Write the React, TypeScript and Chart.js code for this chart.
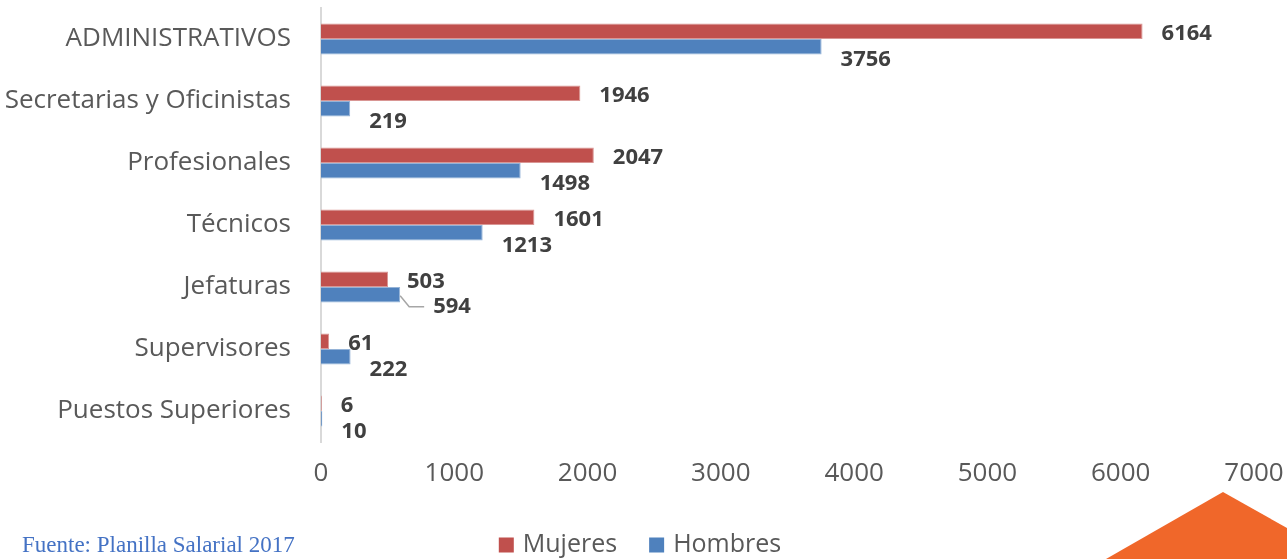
import React, { useEffect, useRef } from "react";
import { Chart, registerables } from "chart.js";

Chart.register(...registerables);

const categories = [
  "ADMINISTRATIVOS",
  "Secretarias y Oficinistas",
  "Profesionales",
  "Técnicos",
  "Jefaturas",
  "Supervisores",
  "Puestos Superiores",
];
const mujeres = [6164, 1946, 2047, 1601, 503, 61, 6];
const hombres = [3756, 219, 1498, 1213, 594, 222, 10];
const xTicks = [0, 1000, 2000, 3000, 4000, 5000, 6000, 7000];
const seriesNames = ["Mujeres", "Hombres"];
const sourceText = "Fuente: Planilla Salarial 2017";

const RED = "#C0504D";
const BLUE = "#4F81BD";
const TEXT = "#595959";

const labelPlugin = {
  id: "valueLabels",
  afterDatasetsDraw(chart: any) {
    const ctx = chart.ctx;
    ctx.save();
    ctx.font = "bold 22px 'Open Sans'";
    ctx.fillStyle = "#404040";
    ctx.textAlign = "left";
    ctx.textBaseline = "middle";
    chart.data.datasets.forEach((ds: any, di: number) => {
      const meta = chart.getDatasetMeta(di);
      meta.data.forEach((el: any, i: number) => {
        const v = ds.data[i];
        let dx = 19;
        let dy = di === 0 ? 2 : 13;
        if (di === 1 && categories[i] === "Jefaturas") {
          dx = 33;
          dy = 12;
          ctx.save();
          ctx.strokeStyle = "#A6A6A6";
          ctx.lineWidth = 1.5;
          ctx.beginPath();
          ctx.moveTo(el.x, el.y + 1);
          ctx.lineTo(el.x + 9, el.y + 12);
          ctx.lineTo(el.x + 24, el.y + 12);
          ctx.stroke();
          ctx.restore();
        }
        ctx.fillText(String(v), el.x + dx, el.y + dy);
      });
    });
    ctx.restore();
  },
};

const legendPlugin = {
  id: "customLegend",
  afterDraw(chart: any) {
    const ctx = chart.ctx;
    ctx.save();
    ctx.font = "25px 'Open Sans'";
    ctx.textBaseline = "middle";
    ctx.textAlign = "left";
    const cy = 545;
    const gap = 32;
    const box = 15;
    const items = chart.data.datasets.map((ds: any) => ({
      text: ds.label,
      color: ds.backgroundColor,
      w: box + 9 + ctx.measureText(ds.label).width,
    }));
    const total = items.reduce((s: number, it: any) => s + it.w, 0) + gap * (items.length - 1);
    let x = 640 - total / 2;
    items.forEach((it: any) => {
      ctx.fillStyle = it.color;
      ctx.fillRect(x, cy - box / 2, box, box);
      ctx.fillStyle = TEXT;
      ctx.fillText(it.text, x + box + 9, cy);
      x += it.w + gap;
    });
    ctx.restore();
  },
};

export default function App() {
  const ref = useRef<HTMLCanvasElement>(null);
  useEffect(() => {
    if (!ref.current) return;
    const chart = new Chart(ref.current, {
      type: "bar",
      data: {
        labels: categories,
        datasets: [
          {
            label: seriesNames[0],
            data: mujeres,
            backgroundColor: RED,
            borderColor: "#D99694",
            borderWidth: 1,
            categoryPercentage: 0.5,
            barPercentage: 1,
          },
          {
            label: seriesNames[1],
            data: hombres,
            backgroundColor: BLUE,
            borderColor: "#95B3D7",
            borderWidth: 1,
            categoryPercentage: 0.5,
            barPercentage: 1,
          },
        ],
      },
      options: {
        indexAxis: "y",
        animation: false,
        responsive: false,
        maintainAspectRatio: false,
        layout: { padding: { left: 0, right: 33, top: 8, bottom: 0 } },
        scales: {
          x: {
            min: 0,
            max: 7000,
            afterBuildTicks: (scale: any) => {
              scale.ticks = xTicks.map((v) => ({ value: v }));
            },
            afterFit: (scale: any) => {
              scale.height = 117;
              scale.paddingLeft = 0;
              scale.paddingRight = 0;
            },
            grid: { display: false },
            border: { display: false },
            ticks: {
              padding: 8,
              color: TEXT,
              font: { family: "'Open Sans'", size: 26 },
              callback: (v: any) => String(v),
            },
          },
          y: {
            afterFit: (scale: any) => {
              scale.width = 321;
              scale.paddingTop = 0;
              scale.paddingBottom = 0;
            },
            grid: { display: false },
            border: { display: true, color: "#D9D9D9", width: 2 },
            ticks: {
              padding: 22,
              color: TEXT,
              font: { family: "'Open Sans'", size: 26 },
            },
          },
        },
        plugins: {
          legend: { display: false },
          tooltip: { enabled: false },
        },
      },
      plugins: [labelPlugin, legendPlugin],
    });
    return () => chart.destroy();
  }, []);

  return (
    <div
      style={{
        position: "absolute",
        left: 0,
        top: 0,
        width: 1287,
        height: 559,
        background: "#ffffff",
        overflow: "hidden",
      }}
    >
      <canvas ref={ref} width={1287} height={559} style={{ display: "block" }} />
      <svg
        width={1287}
        height={559}
        style={{ position: "absolute", left: 0, top: 0, pointerEvents: "none" }}
      >
        <polygon points="1106,559 1223,492 1287,528 1287,559" fill="#F0672A" />
      </svg>
      <div
        style={{
          position: "absolute",
          left: 22,
          top: 532,
          fontFamily: "'Liberation Serif', serif",
          fontSize: 23,
          lineHeight: "26px",
          color: "#4472C4",
          whiteSpace: "nowrap",
        }}
      >
        {sourceText}
      </div>
    </div>
  );
}
